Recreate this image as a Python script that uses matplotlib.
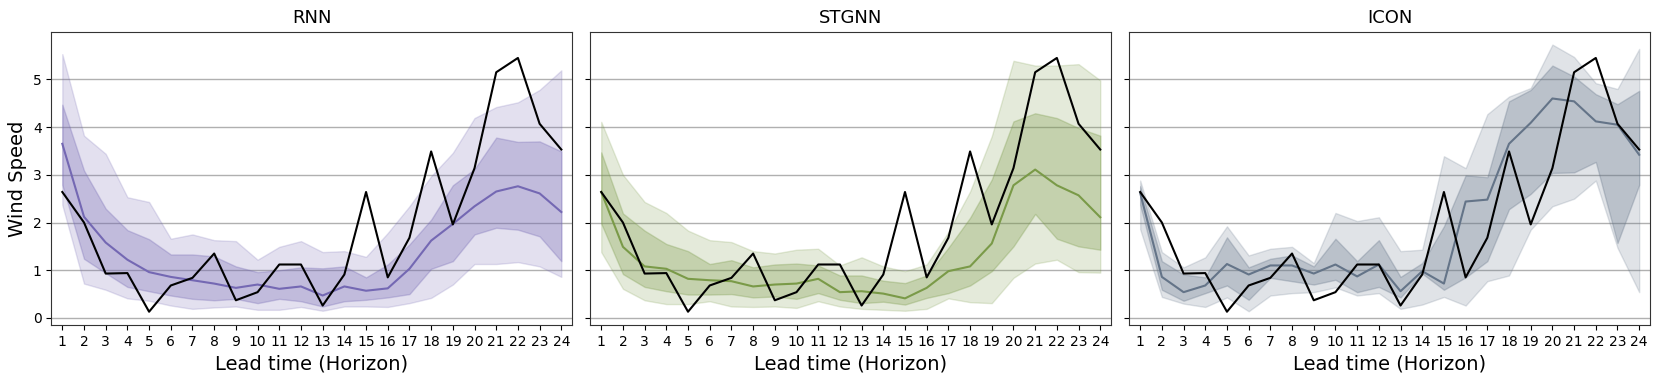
import numpy as np
import matplotlib
matplotlib.use("Agg")
import matplotlib.pyplot as plt

horizon = np.arange(1, 25)

# observed wind speed (same in every panel)
truth = [2.64, 2.00, 0.93, 0.94, 0.13, 0.68, 0.84, 1.35, 0.37, 0.54, 1.12, 1.12,
         0.26, 0.91, 2.64, 0.85, 1.68, 3.49, 1.96, 3.14, 5.15, 5.45, 4.07, 3.53]

# RNN
rnn_mean = [3.65, 2.12, 1.58, 1.22, 0.96, 0.86, 0.79, 0.72, 0.63, 0.70, 0.61, 0.66,
            0.47, 0.66, 0.57, 0.62, 1.03, 1.62, 1.97, 2.34, 2.65, 2.76, 2.61, 2.22]
rnn_in_hi = [4.47, 3.09, 2.29, 1.84, 1.65, 1.33, 1.33, 1.29, 1.08, 0.96, 1.00, 1.06,
             1.04, 1.08, 0.85, 1.12, 1.54, 2.06, 2.78, 3.12, 3.78, 3.69, 3.70, 3.49]
rnn_in_lo = [2.79, 1.24, 0.94, 0.65, 0.56, 0.47, 0.40, 0.37, 0.40, 0.31, 0.40, 0.35,
             0.24, 0.35, 0.38, 0.43, 0.50, 1.03, 1.19, 1.75, 1.89, 1.85, 1.71, 1.19]
rnn_out_hi = [5.53, 3.82, 3.44, 2.53, 2.43, 1.66, 1.75, 1.63, 1.61, 1.22, 1.49, 1.61,
              1.38, 1.40, 1.28, 1.78, 2.34, 2.97, 3.46, 4.19, 4.42, 4.52, 4.78, 5.19]
rnn_out_lo = [2.37, 0.72, 0.59, 0.41, 0.36, 0.26, 0.19, 0.22, 0.24, 0.17, 0.17, 0.23,
              0.15, 0.24, 0.24, 0.23, 0.31, 0.42, 0.70, 1.13, 1.13, 1.17, 1.08, 0.86]

# STGNN
stg_mean = [2.64, 1.49, 1.08, 1.03, 0.82, 0.79, 0.77, 0.66, 0.70, 0.72, 0.82, 0.54,
            0.56, 0.51, 0.41, 0.63, 0.98, 1.08, 1.56, 2.78, 3.11, 2.78, 2.57, 2.11]
stg_in_hi = [3.47, 2.19, 1.83, 1.55, 1.40, 1.13, 1.21, 1.06, 1.12, 1.14, 1.10, 0.89,
             0.89, 0.78, 0.73, 0.89, 1.47, 2.10, 2.90, 4.12, 4.29, 4.19, 3.98, 3.82]
stg_in_lo = [1.98, 0.92, 0.65, 0.56, 0.49, 0.49, 0.50, 0.43, 0.45, 0.40, 0.52, 0.38,
             0.31, 0.34, 0.28, 0.42, 0.52, 0.68, 0.98, 1.50, 2.18, 1.66, 1.50, 1.43]
stg_out_hi = [4.11, 3.00, 2.43, 2.20, 1.83, 1.63, 1.59, 1.40, 1.35, 1.43, 1.45, 1.10,
              1.27, 1.08, 0.98, 1.12, 1.80, 2.65, 3.81, 5.39, 5.29, 5.29, 5.32, 4.98]
stg_out_lo = [1.38, 0.61, 0.37, 0.29, 0.29, 0.35, 0.24, 0.23, 0.24, 0.21, 0.35, 0.24,
              0.19, 0.17, 0.15, 0.19, 0.41, 0.33, 0.31, 0.84, 1.14, 1.22, 0.96, 0.95]

# ICON
icon_mean = [2.62, 0.86, 0.54, 0.68, 1.13, 0.91, 1.10, 1.10, 0.93, 1.12, 0.87, 1.12,
             0.56, 0.98, 0.72, 2.44, 2.48, 3.65, 4.09, 4.60, 4.54, 4.12, 4.05, 3.42]
icon_in_hi = [2.76, 1.19, 0.91, 0.85, 1.69, 1.06, 1.24, 1.31, 1.08, 1.66, 1.19, 1.63,
              0.86, 1.15, 1.92, 2.99, 2.95, 4.54, 4.78, 5.29, 5.06, 4.69, 4.48, 4.76]
icon_in_lo = [2.37, 0.59, 0.36, 0.52, 0.68, 0.38, 0.84, 0.77, 0.70, 0.80, 0.54, 0.65,
              0.43, 0.93, 0.59, 0.85, 1.19, 2.28, 2.60, 3.04, 3.05, 3.27, 1.57, 2.79]
icon_out_hi = [2.88, 1.38, 1.06, 1.27, 1.92, 1.31, 1.45, 1.49, 1.15, 2.20, 2.03, 2.11,
               1.40, 1.43, 3.39, 3.14, 4.27, 4.64, 4.82, 5.73, 5.47, 4.92, 4.80, 5.64]
icon_out_lo = [1.86, 0.44, 0.30, 0.23, 0.43, 0.14, 0.47, 0.52, 0.54, 0.64, 0.47, 0.52,
               0.19, 0.28, 0.44, 0.26, 0.77, 0.89, 1.85, 2.34, 2.50, 2.88, 1.47, 0.54]

models = ["RNN", "STGNN", "ICON"]
colors = ["#7468b3", "#7a9a48", "#647488"]
series = [
    (rnn_mean, rnn_in_lo, rnn_in_hi, rnn_out_lo, rnn_out_hi),
    (stg_mean, stg_in_lo, stg_in_hi, stg_out_lo, stg_out_hi),
    (icon_mean, icon_in_lo, icon_in_hi, icon_out_lo, icon_out_hi),
]

fig, axes = plt.subplots(1, 3, figsize=(16.6, 3.82), dpi=100, sharey=True)
fig.subplots_adjust(left=0.031, right=0.994, top=0.917, bottom=0.149, wspace=0.035)

for ax, name, col, (mean, ilo, ihi, olo, ohi) in zip(axes, models, colors, series):
    ax.yaxis.grid(True, color="#b0b0b0", linewidth=1.0)
    ax.set_axisbelow(True)
    ax.fill_between(horizon, olo, ohi, color=col, alpha=0.2)
    ax.fill_between(horizon, ilo, ihi, color=col, alpha=0.3)
    ax.plot(horizon, mean, color=col, linewidth=1.5)
    ax.plot(horizon, truth, color="black", linewidth=1.5)
    ax.set_title(name, fontsize=13)
    ax.set_xticks(horizon)
    ax.set_xlim(0.5, 24.5)
    ax.set_xlabel("Lead time (Horizon)", fontsize=14)
    ax.tick_params(labelsize=10)
    for sp in ax.spines.values():
        sp.set_color("#333333")

axes[0].set_ylim(-0.15, 6.0)
axes[0].set_yticks(range(6))
axes[0].set_ylabel("Wind Speed", fontsize=14)

plt.savefig("out.png")
